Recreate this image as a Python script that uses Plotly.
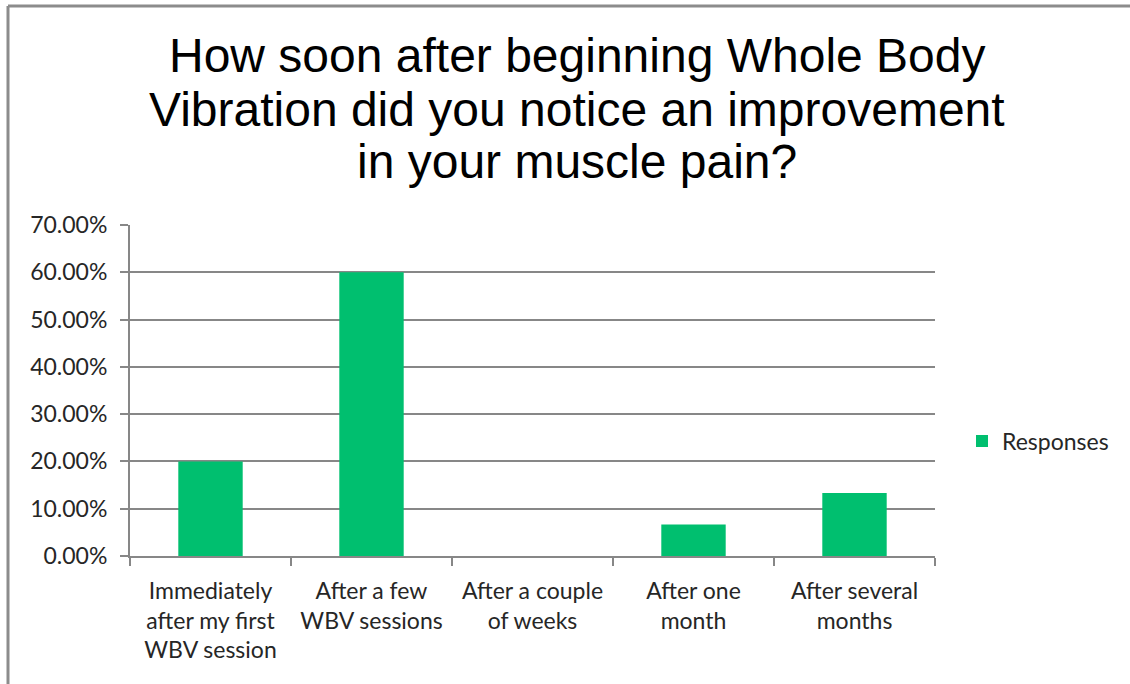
import plotly.graph_objects as go

categories = [
    "Immediately<br>after my first<br>WBV session",
    "After a few<br>WBV sessions",
    "After a couple<br>of weeks",
    "After one<br>month",
    "After several<br>months",
]
responses = [0.20, 0.60, 0.0, 0.0667, 0.1333]
series_name = "Responses"
title_lines = [
    "How soon after beginning Whole Body",
    "Vibration did you notice an improvement",
    "in your muscle pain?",
]
y_ticks = [0, 0.1, 0.2, 0.3, 0.4, 0.5, 0.6, 0.7]

W, H = 1130, 684
L, R, T, B = 130, 195, 225, 128
pw, ph = W - L - R, H - T - B

def px_x(x):
    return (x - L) / pw

def px_y(y):
    return (H - B - y) / ph

GRAY = "#878787"
TXT = "#262626"
TICKFONT = dict(family="Lato, Open Sans, sans-serif", size=23, color=TXT)

fig = go.Figure()
fig.add_trace(go.Bar(
    x=categories, y=responses, name=series_name,
    marker=dict(color="#00BF6F", line=dict(width=0)),
    showlegend=True,
))

annotations = []
for i, (line, ypx) in enumerate(zip(title_lines, [55, 109, 161])):
    annotations.append(dict(
        text=line, xref="paper", yref="paper", x=px_x(577), y=px_y(ypx),
        xanchor="center", yanchor="middle", showarrow=False,
        font=dict(family="Liberation Sans, Arial, sans-serif", size=48, color="#000000"),
    ))

shapes = [
    dict(type="line", xref="paper", yref="paper", x0=px_x(8), x1=px_x(1131), y0=px_y(6), y1=px_y(6),
         line=dict(color="#8C8C8C", width=3)),
    dict(type="line", xref="paper", yref="paper", x0=px_x(8), x1=px_x(8), y0=px_y(6), y1=px_y(690),
         line=dict(color="#8C8C8C", width=3)),
]

fig.update_layout(
    width=W, height=H,
    margin=dict(l=L, r=R, t=T, b=B, autoexpand=False),
    paper_bgcolor="white", plot_bgcolor="white",
    bargap=0.6,
    annotations=annotations,
    shapes=shapes,
    showlegend=True,
    legend=dict(x=px_x(962), y=px_y(441), xanchor="left", yanchor="middle",
                font=dict(family="Lato, Open Sans, sans-serif", size=23, color=TXT),
                bgcolor="rgba(0,0,0,0)", itemwidth=30),
    xaxis=dict(
        type="category", showline=True, linecolor=GRAY, linewidth=2,
        ticks="outside", tickson="boundaries", ticklen=8, tickcolor=GRAY, tickwidth=2,
        tickfont=TICKFONT, showgrid=False, tickangle=0, ticklabelstandoff=13,
    ),
    yaxis=dict(
        range=[0, 0.7], tickvals=y_ticks, tickformat=".2%",
        showline=True, linecolor=GRAY, linewidth=2,
        ticks="outside", ticklen=8, tickcolor=GRAY, tickwidth=2,
        showgrid=True, gridcolor=GRAY, gridwidth=2, zeroline=False,
        tickfont=TICKFONT, ticklabelstandoff=8,
    ),
)

fig.write_html("out.html", config={"displayModeBar": False},
               post_script="document.body.style.margin='0';document.body.style.overflow='hidden';")
